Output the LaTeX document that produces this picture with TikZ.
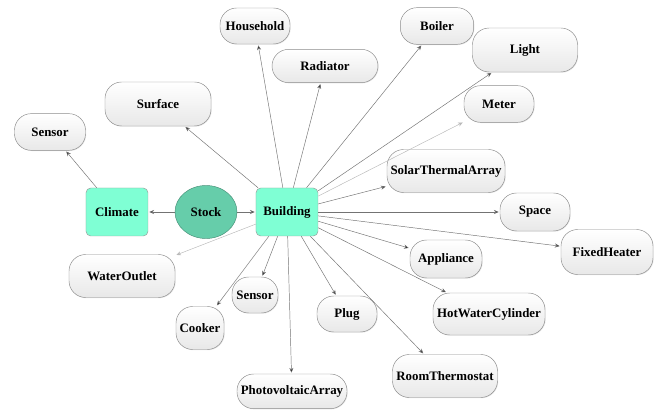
\documentclass[tikz,border=0pt]{standalone}
\usepackage{fontspec}
\setmainfont{Liberation Serif}
\usetikzlibrary{positioning,shapes.geometric,arrows.meta,shadows}
\definecolor{aqua}{RGB}{127,255,212}
\definecolor{stockgreen}{RGB}{102,205,170}

\begin{document}
\begin{tikzpicture}[shorten >=1pt, node distance = 2.4cm, on grid,
    >={Stealth[length=4pt,width=3.5pt]},
    every node/.style={font=\fontsize{11}{13}\selectfont\bfseries},
    concept/.style={draw=gray!90, rounded corners=0.5cm, inner sep=2pt,
        top color=white, bottom color=gray!18, minimum height=1.1cm,
        drop shadow={opacity=0.2,shadow xshift=0.6pt,shadow yshift=-0.6pt}},
    core/.style={draw=gray!80, fill=aqua, rounded corners=4pt,
        minimum width=1.86cm, minimum height=1.44cm},
    link/.style={draw=gray!90!black, thin},
    faint/.style={draw=gray!55, thin}]
    \useasboundingbox (-8.61,-5.94) rectangle (11.07,6.36);

    \node[core] (building) {Building};
    \node[ellipse, draw=stockgreen!70!black, fill=stockgreen, minimum width=1.86cm, minimum height=1.59cm] (stock) [left=2.43 of building] {Stock};
    \node[core] (climate) [left=2.67 of stock] {Climate};
    \node[concept, minimum width=2.13cm] (sensor_c) [above left=2.4 and 2.01 of climate] {Sensor};

    \node[concept, minimum width=2.1cm, minimum height=1.08cm] (household) [above left=5.58 and 0.96 of building] {Household};
    \node[concept, minimum width=3.18cm, minimum height=1.0cm] (radiator) [above right=4.38 and 1.14 of building] {Radiator};
    \node[concept, minimum width=3.18cm, minimum height=1.32cm] (surface) [above left=3.24 and 3.87 of building] {Surface};
    \node[concept, minimum width=2.2cm] (boiler) [above right=5.58 and 4.5 of building] {Boiler};
    \node[concept, minimum width=3.15cm, minimum height=1.32cm] (light) [above right=4.86 and 7.14 of building] {Light};
    \node[concept, minimum width=2.1cm] (meter) [above right=3.24 and 6.36 of building] {Meter};
    \node[concept, minimum width=3.54cm, minimum height=1.29cm] (solar) [above right=1.23 and 4.77 of building] {SolarThermalArray};
    \node[concept, minimum width=2.1cm, minimum height=1.14cm] (space) [right=7.44 of building] {Space};
    \node[concept, minimum width=2.76cm, minimum height=1.35cm] (heater) [below right=1.2 and 9.6 of building] {FixedHeater};
    \node[concept, minimum width=2.16cm, minimum height=1.14cm] (appliance) [below right=1.41 and 4.77 of building] {Appliance};
    \node[concept, minimum width=3.36cm, minimum height=1.26cm] (cylinder) [below right=3.06 and 6.06 of building] {HotWaterCylinder};
    \node[concept, minimum width=3.15cm, minimum height=1.29cm] (thermostat) [below right=4.92 and 4.74 of building] {RoomThermostat};
    \node[concept, minimum width=1.8cm, minimum height=1.08cm] (plug) [below right=3.06 and 1.8 of building] {Plug};
    \node[concept, minimum width=3.3cm, minimum height=1.04cm] (pv) [below right=5.38 and 0.15 of building] {PhotovoltaicArray};
    \node[concept, minimum width=1.38cm, minimum height=1.08cm] (sensor_b) [below left=2.49 and 0.96 of building] {Sensor};
    \node[concept, minimum width=1.44cm, minimum height=1.29cm] (cooker) [below left=3.48 and 2.61 of building] {Cooker};
    \node[concept, minimum width=3.18cm, minimum height=1.29cm] (outlet) [below left=1.92 and 4.95 of building] {WaterOutlet};

    \path[->, link]
    (stock) edge (climate)
    (stock) edge (building)
    (climate) edge (sensor_c)
    (building) edge (household)
    (building) edge (radiator)
    (building) edge (surface)
    (building) edge (boiler)
    (building) edge (light)
    (building) edge[faint] (meter)
    (building) edge (solar)
    (building) edge (space)
    (building) edge (heater)
    (building) edge (appliance)
    (building) edge (cylinder)
    (building) edge (thermostat)
    (building) edge (plug)
    (building) edge (pv)
    (building) edge (sensor_b)
    (building) edge (cooker)
    (building) edge[faint] (outlet);
\end{tikzpicture}
\end{document}
